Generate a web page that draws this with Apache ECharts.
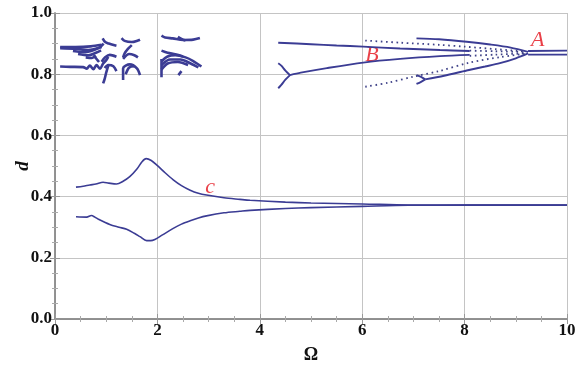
<!DOCTYPE html>
<html>
<head>
<meta charset="utf-8">
<script src="https://cdn.jsdelivr.net/npm/echarts@6/dist/echarts.min.js"></script>
<style>
  html, body { margin: 0; padding: 0; background: #fff; }
  #chart { width: 586px; height: 368px; }
</style>
</head>
<body>
<div id="chart"></div>
<script>
// 分支数据 [Ω, d]
const cUpper = [[0.41,0.431],[0.55,0.434],[0.68,0.438],[0.8,0.441],[0.94,0.447],[1.05,0.444],[1.2,0.441],[1.33,0.45],[1.46,0.465],[1.6,0.49],[1.7,0.514],[1.78,0.524],[1.88,0.518],[1.99,0.503],[2.15,0.478],[2.31,0.455],[2.47,0.436],[2.64,0.421],[2.8,0.411],[2.96,0.405],[3.3,0.396],[3.61,0.391],[3.81,0.388],[4.5,0.382],[5,0.379],[6,0.376],[6.9,0.3725],[8,0.372],[10,0.372]]
const cLower = [[0.41,0.334],[0.62,0.333],[0.71,0.338],[0.78,0.333],[0.85,0.326],[1.07,0.309],[1.25,0.3],[1.4,0.293],[1.55,0.28],[1.66,0.269],[1.79,0.256],[1.87,0.256],[1.95,0.26],[2.1,0.275],[2.31,0.296],[2.47,0.31],[2.64,0.321],[2.8,0.33],[2.96,0.337],[3.3,0.347],[3.61,0.352],[3.81,0.355],[4.5,0.361],[5,0.364],[6,0.368],[6.9,0.3715],[8,0.372],[10,0.372]]

// 右上分支
const branchTop = [[4.36,0.903],[5,0.898],[5.5,0.894],[6.02,0.89],[6.74,0.884],[7.52,0.879],[8.1,0.876]]
const branchB = [[4.59,0.797],[4.8,0.805],[5.31,0.82],[6.02,0.838],[6.74,0.85],[7.52,0.859],[8.1,0.863]]
const forkUp = [[4.36,0.836],[4.42,0.828],[4.5,0.812],[4.59,0.797]]
const forkDown = [[4.36,0.754],[4.42,0.765],[4.5,0.782],[4.59,0.797]]
const outerUp = [[7.06,0.917],[7.5,0.914],[8.04,0.906],[8.5,0.897],[8.9,0.887],[9.24,0.873]]
const outerLow = [[7.23,0.783],[7.6,0.795],[8.04,0.812],[8.4,0.825],[8.69,0.836],[9.0,0.852],[9.24,0.868]]
const hookUp = [[7.06,0.797],[7.15,0.791],[7.23,0.783]]
const hookDown = [[7.06,0.768],[7.15,0.775],[7.23,0.783]]
const tailHigh = [[9.24,0.876],[10,0.877]]
const tailLow = [[9.24,0.864],[10,0.864]]

// 不稳定分支(虚线)
const dotHigh = [[6.06,0.91],[6.74,0.903],[7.5,0.896],[8.0,0.89],[8.6,0.882],[9.2,0.874]]
const dotLow = [[6.06,0.759],[6.5,0.772],[7.0,0.792],[7.5,0.81],[8.1,0.838],[8.7,0.856],[9.2,0.867]]
const dotInnerHigh = [[8.1,0.877],[8.6,0.875],[9.2,0.872]]
const dotInnerLow = [[8.1,0.86],[8.6,0.864],[9.2,0.868]]

// 左上混沌区
const g1Band1 = [[0.1,0.889],[0.4,0.889],[0.7,0.891],[0.91,0.896]]
const g1Band2 = [[0.1,0.885],[0.4,0.883],[0.65,0.879],[0.91,0.889]]
const g1Wedge1 = [[0.35,0.876],[0.6,0.872],[0.85,0.885],[0.95,0.9]]
const g1Wedge2 = [[0.45,0.866],[0.65,0.862],[0.8,0.87],[0.9,0.878]]
const g1Wedge3 = [[0.6,0.855],[0.72,0.853],[0.8,0.86]]
const g1Wedge4 = [[0.75,0.862],[0.82,0.848],[0.86,0.84]]
const g1Wavy = [[0.1,0.825],[0.3,0.824],[0.55,0.823],[0.62,0.818],[0.68,0.828],[0.75,0.816],[0.81,0.83],[0.88,0.818],[0.94,0.835],[1.0,0.846],[1.04,0.857]]
const g1Hook = [[0.93,0.917],[0.98,0.905],[1.05,0.9],[1.2,0.893]]
const g1Arc = [[0.91,0.841],[0.98,0.855],[1.07,0.863],[1.2,0.857]]
const g1Arc2 = [[0.97,0.82],[1.04,0.83],[1.14,0.826],[1.2,0.81]]
const g1Drop = [[1.04,0.828],[1.0,0.805],[0.97,0.785],[0.94,0.77]]

const g2Top = [[1.3,0.918],[1.36,0.909],[1.5,0.905],[1.62,0.91],[1.66,0.913]]
const g2Diag = [[1.5,0.895],[1.42,0.882],[1.36,0.868],[1.33,0.855]]
const g2Arc = [[1.33,0.85],[1.45,0.866],[1.55,0.862],[1.62,0.855]]
const g2Low = [[1.33,0.781],[1.33,0.819],[1.46,0.832],[1.6,0.819],[1.66,0.797]]
const g2Low2 = [[1.38,0.8],[1.45,0.822],[1.55,0.826]]

const g3Top = [[2.08,0.926],[2.15,0.92],[2.3,0.917],[2.5,0.912],[2.7,0.913],[2.83,0.918]]
const g3Top2 = [[2.4,0.922],[2.47,0.915],[2.55,0.91]]
const g3Fan1 = [[2.08,0.877],[2.2,0.87],[2.35,0.865],[2.5,0.858]]
const g3Fan2 = [[2.08,0.842],[2.2,0.858],[2.35,0.862],[2.55,0.855],[2.7,0.843],[2.86,0.825]]
const g3Fan3 = [[2.08,0.83],[2.25,0.848],[2.45,0.848],[2.65,0.835],[2.8,0.822]]
const g3Fan4 = [[2.08,0.815],[2.2,0.835],[2.4,0.84],[2.6,0.83]]
const g3Vert = [[2.08,0.85],[2.08,0.79]]
const g3Short = [[2.41,0.797],[2.47,0.81]]

const xTicks = [0, 2, 4, 6, 8, 10]
const yTicks = [0, 0.2, 0.4, 0.6, 0.8, 1.0]
const labelPoints = [['A', 9.43, 0.912], ['B', 6.19, 0.863], ['c', 3.03, 0.431]]

function bifurcation() {
    const myChart = echarts.init(document.getElementById('chart'))
    const blue = '#3b3c94'
    const serif = '"Liberation Serif", "DejaVu Serif", serif'

    const curves = [cUpper, cLower]
    const solids = [branchTop, branchB, forkUp, forkDown, outerUp, outerLow, hookUp, hookDown, tailHigh, tailLow]
    const cluster = [g1Band1, g1Band2, g1Wedge1, g1Wedge2, g1Wedge3, g1Wedge4, g1Wavy, g1Hook, g1Arc, g1Arc2, g1Drop,
        g2Top, g2Diag, g2Arc, g2Low, g2Low2,
        g3Top, g3Top2, g3Fan1, g3Fan2, g3Fan3, g3Fan4, g3Vert, g3Short]
    const dotted = [dotHigh, dotLow, dotInnerHigh, dotInnerLow]

    const series = []
    curves.forEach(d => series.push({ type: 'line', data: d, showSymbol: false, smooth: 0.3, lineStyle: { color: blue, width: 1.6 } }))
    solids.forEach(d => series.push({ type: 'line', data: d, showSymbol: false, smooth: 0.3, lineStyle: { color: blue, width: 1.9 } }))
    cluster.forEach(d => series.push({ type: 'line', data: d, showSymbol: false, smooth: 0.3, lineStyle: { color: blue, width: 2.6 } }))
    dotted.forEach(d => series.push({ type: 'line', data: d, showSymbol: false, smooth: 0.3, lineStyle: { color: '#3f4288', width: 1.8, type: [1.6, 3.6] } }))
    series.push({
        type: 'scatter',
        symbolSize: 0,
        data: labelPoints.map(p => ({ name: p[0], value: [p[1], p[2]] })),
        label: {
            show: true,
            formatter: '{b}',
            position: 'inside',
            color: '#e3101a',
            fontFamily: serif,
            fontStyle: 'italic',
            fontSize: 22
        }
    })

    const frameLine = { show: true, lineStyle: { color: '#8c8c8c', width: 1.5 } }
    const tick = { show: true, inside: true, length: 5, lineStyle: { color: '#999' } }
    const minor = { show: true, splitNumber: 4, length: 3, lineStyle: { color: '#aaa' } }
    const grid = { show: true, lineStyle: { color: '#c4c4c4', width: 1 } }
    const labelFont = { fontFamily: serif, fontWeight: 'bold', fontSize: 17, color: '#111' }

    const option = {
        animation: false,
        grid: { left: 55, right: 19, top: 13, bottom: 49, outerBoundsMode: 'none', containLabel: false },
        xAxis: [
            {
                type: 'value', min: xTicks[0], max: xTicks[xTicks.length - 1], interval: 2,
                axisLine: frameLine, axisTick: tick, minorTick: minor, splitLine: grid,
                axisLabel: Object.assign({ margin: 3 }, labelFont),
                name: 'Ω', nameLocation: 'middle', nameGap: 27, nameMoveOverlap: false,
                nameTextStyle: { fontFamily: serif, fontWeight: 'bold', fontSize: 18, color: '#111' }
            },
            {
                type: 'value', position: 'top', min: 0, max: 10, interval: 2,
                axisLine: frameLine, axisTick: tick, minorTick: minor, splitLine: { show: false },
                axisLabel: { show: false }
            }
        ],
        yAxis: [
            {
                type: 'value', min: yTicks[0], max: yTicks[yTicks.length - 1], interval: 0.2,
                axisLine: frameLine, axisTick: tick, minorTick: minor, splitLine: grid,
                axisLabel: Object.assign({ margin: 3, formatter: v => v.toFixed(1) }, labelFont),
                name: 'd', nameLocation: 'middle', nameGap: 22, nameRotate: 90, nameMoveOverlap: false,
                nameTextStyle: { fontFamily: serif, fontWeight: 'bold', fontStyle: 'italic', fontSize: 19, color: '#111' }
            },
            {
                type: 'value', position: 'right', min: 0, max: 1, interval: 0.2,
                axisLine: frameLine, axisTick: tick, minorTick: minor, splitLine: { show: false },
                axisLabel: { show: false }
            }
        ],
        series: series
    }
    myChart.setOption(option)
}
bifurcation()
</script>
</body>
</html>
